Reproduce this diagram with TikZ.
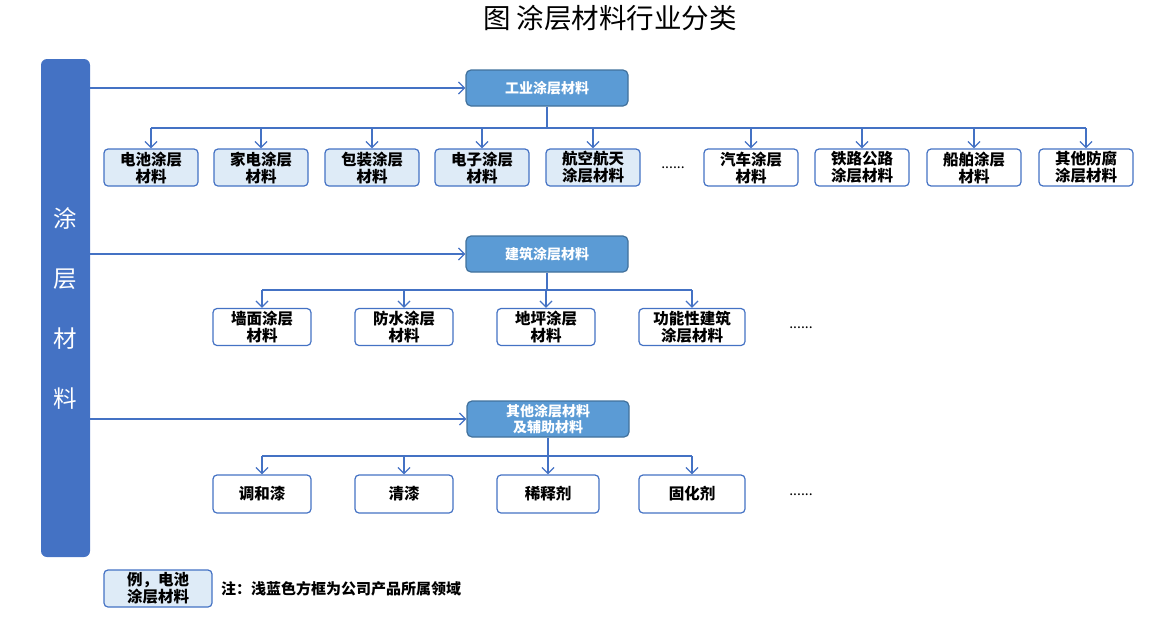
\documentclass[tikz,border=0pt]{standalone}
\usepackage{fontspec}
\setmainfont{Noto Sans CJK SC}
\usetikzlibrary{arrows.meta}
\definecolor{barblue}{HTML}{4472C4}
\definecolor{topfill}{HTML}{5B9BD5}
\definecolor{topborder}{HTML}{41719C}
\definecolor{itemborder}{HTML}{4472C4}
\definecolor{lightfill}{HTML}{DEEBF7}
\definecolor{lineblue}{HTML}{4472C4}
\tikzset{
  cat/.style={draw=topborder, fill=topfill, rounded corners=5pt, line width=1.2pt,
    minimum width=162pt, minimum height=36pt, text=white, inner sep=0pt,
    font=\fontsize{14}{16.5}\selectfont\bfseries, align=center},
  item/.style={draw=itemborder, fill=white, rounded corners=4pt, line width=1.2pt,
    minimum width=94pt, minimum height=37pt, inner sep=0pt,
    font=\fontsize{15.5}{17}\selectfont\bfseries, align=center},
  hl/.style={item, fill=lightfill},
  conn/.style={draw=lineblue, line width=1.3pt},
  arr/.style={conn, -{Straight Barb[length=6pt,width=12pt]}},
  dots/.style={font=\fontsize{14}{16}\selectfont, inner sep=0pt}
}
\begin{document}
\begin{tikzpicture}[x=1pt,y=-1pt]
\useasboundingbox (0,0) rectangle (1160,622);
% title
\node[font=\fontsize{27.5}{32}\selectfont] (title) at (610,18) {图 涂层材料行业分类};
% left bar
\node[fill=barblue, rounded corners=6pt, minimum width=49pt, minimum height=498pt,
  inner sep=0pt, text=white, font=\fontsize{23.5}{60}\selectfont, align=center]
  (bar) at (65.5,308) {涂\\层\\材\\料};
% category boxes
\node[cat] (c1) at (547,88) {工业涂层材料};
\node[cat] (c2) at (547,254) {建筑涂层材料};
\node[cat] (c3) at (548,419) {其他涂层材料\\及辅助材料};
% row 1
\node[hl] (a1) at (151,167.5) {电池涂层\\材料};
\node[hl] (a2) at (261,167.5) {家电涂层\\材料};
\node[hl] (a3) at (372,167.5) {包装涂层\\材料};
\node[hl] (a4) at (482,167.5) {电子涂层\\材料};
\node[hl] (a5) at (593,167.5) {航空航天\\涂层材料};
\node[dots] (d1) at (673,168) {......};
\node[item] (a6) at (751,167.5) {汽车涂层\\材料};
\node[item] (a7) at (862,167.5) {铁路公路\\涂层材料};
\node[item] (a8) at (974,167.5) {船舶涂层\\材料};
\node[item] (a9) at (1086,167.5) {其他防腐\\涂层材料};
% row 2
\node[item, minimum width=98pt] (b1) at (262,327) {墙面涂层\\材料};
\node[item, minimum width=98pt] (b2) at (404,327) {防水涂层\\材料};
\node[item, minimum width=98pt] (b3) at (546,327) {地坪涂层\\材料};
\node[item, minimum width=106pt] (b4) at (692,327) {功能性建筑\\涂层材料};
\node[dots] (d2) at (801,328) {......};
% row 3
\node[item, minimum width=98pt, minimum height=38pt] (e1) at (262,494) {调和漆};
\node[item, minimum width=98pt, minimum height=38pt] (e2) at (404,494) {清漆};
\node[item, minimum width=102pt, minimum height=38pt] (e3) at (548,494) {稀释剂};
\node[item, minimum width=106pt, minimum height=38pt] (e4) at (692,494) {固化剂};
\node[dots] (d3) at (801,495) {......};
% legend
\node[hl, minimum width=108pt] (lg) at (158,588.5) {例，电池\\涂层材料};
\node[anchor=west, font=\fontsize{15}{18}\selectfont\bfseries, inner sep=0pt] (note) at (221,589) {注：浅蓝色方框为公司产品所属领域};
% bar arrows
\draw[arr] (bar.east |- c1.west) -- (c1.west);
\draw[arr] (bar.east |- c2.west) -- (c2.west);
\draw[arr] (bar.east |- c3.west) -- (c3.west);
% row 1 connectors
\coordinate (h1) at (547,128);
\draw[conn] (c1.south) -- (h1);
\draw[conn] (h1 -| a1.north) -- (h1 -| a9.north);
\foreach \n in {a1,a2,a3,a4,a5,a6,a7,a8,a9}
  \draw[arr] (h1 -| \n.north) -- (\n.north);
% row 2 connectors
\coordinate (h2) at (547,290);
\draw[conn] (c2.south) -- (h2);
\draw[conn] (h2 -| b1.north) -- (h2 -| b4.north);
\foreach \n in {b1,b2,b3,b4}
  \draw[arr] (h2 -| \n.north) -- (\n.north);
% row 3 connectors
\coordinate (h3) at (548,456);
\draw[conn] (c3.south) -- (h3);
\draw[conn] (h3 -| e1.north) -- (h3 -| e4.north);
\foreach \n in {e1,e2,e3,e4}
  \draw[arr] (h3 -| \n.north) -- (\n.north);
\end{tikzpicture}
\end{document}
